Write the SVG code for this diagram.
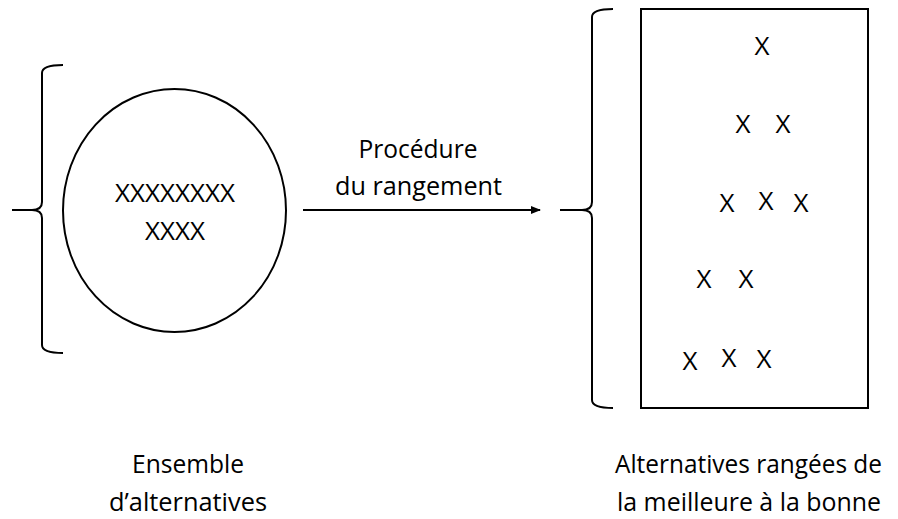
<svg xmlns="http://www.w3.org/2000/svg" width="898" height="519" viewBox="0 0 898 519">
<defs>
<style>
.ln{fill:none;stroke:#000;stroke-width:2}
.t{font-family:"Open Sans","Liberation Sans",sans-serif;font-size:26px;fill:#000;text-anchor:middle}
</style>
<marker id="ah" markerWidth="10" markerHeight="10" refX="9" refY="5" orient="auto" markerUnits="userSpaceOnUse">
<path d="M0,1 L10,5 L0,9 Z" fill="#000"/>
</marker>
</defs>
<rect width="898" height="519" fill="#fff"/>
<g id="brace-left">
<path class="ln" d="M63,65 Q42,65 42,73 V202 Q42,210 32,210 H12 M32,210 Q42,210 42,218 V345 Q42,353 63,353"/>
</g>
<g id="ensemble">
<ellipse class="ln" cx="174.5" cy="210.5" rx="111.5" ry="121.5"/>
<text class="t" x="175" y="202" textLength="120" lengthAdjust="spacingAndGlyphs">XXXXXXXX</text>
<text class="t" x="175" y="240" textLength="60" lengthAdjust="spacingAndGlyphs">XXXX</text>
</g>
<g id="connectors">
<line class="ln" x1="303" y1="210" x2="540" y2="210" marker-end="url(#ah)"/>
</g>
<g id="arrow-label">
<text class="t" x="418" y="158" textLength="119" lengthAdjust="spacingAndGlyphs">Procédure</text>
<text class="t" x="418.5" y="195" textLength="167" lengthAdjust="spacingAndGlyphs">du rangement</text>
</g>
<g id="brace-right">
<path class="ln" d="M613,9 Q592,9 592,17 V202 Q592,210 582,210 H560 M582,210 Q592,210 592,218 V400 Q592,408 613,408"/>
</g>
<g id="classement">
<rect class="ln" x="641" y="9" width="227" height="399"/>
<text class="t" x="762" y="55">X</text>
<text class="t" x="743" y="133">X</text>
<text class="t" x="783" y="133">X</text>
<text class="t" x="727" y="212">X</text>
<text class="t" x="766" y="210">X</text>
<text class="t" x="801" y="212">X</text>
<text class="t" x="704" y="288">X</text>
<text class="t" x="746" y="288">X</text>
<text class="t" x="690" y="370">X</text>
<text class="t" x="729" y="367">X</text>
<text class="t" x="764" y="368">X</text>
</g>
<g id="label-left">
<text class="t" x="188" y="473" textLength="112" lengthAdjust="spacingAndGlyphs">Ensemble</text>
<text class="t" x="188" y="511" textLength="158" lengthAdjust="spacingAndGlyphs">d’alternatives</text>
</g>
<g id="label-right">
<text class="t" x="748.5" y="473" textLength="267" lengthAdjust="spacingAndGlyphs">Alternatives rangées de</text>
<text class="t" x="749" y="511" textLength="264" lengthAdjust="spacingAndGlyphs">la meilleure à la bonne</text>
</g>
</svg>
